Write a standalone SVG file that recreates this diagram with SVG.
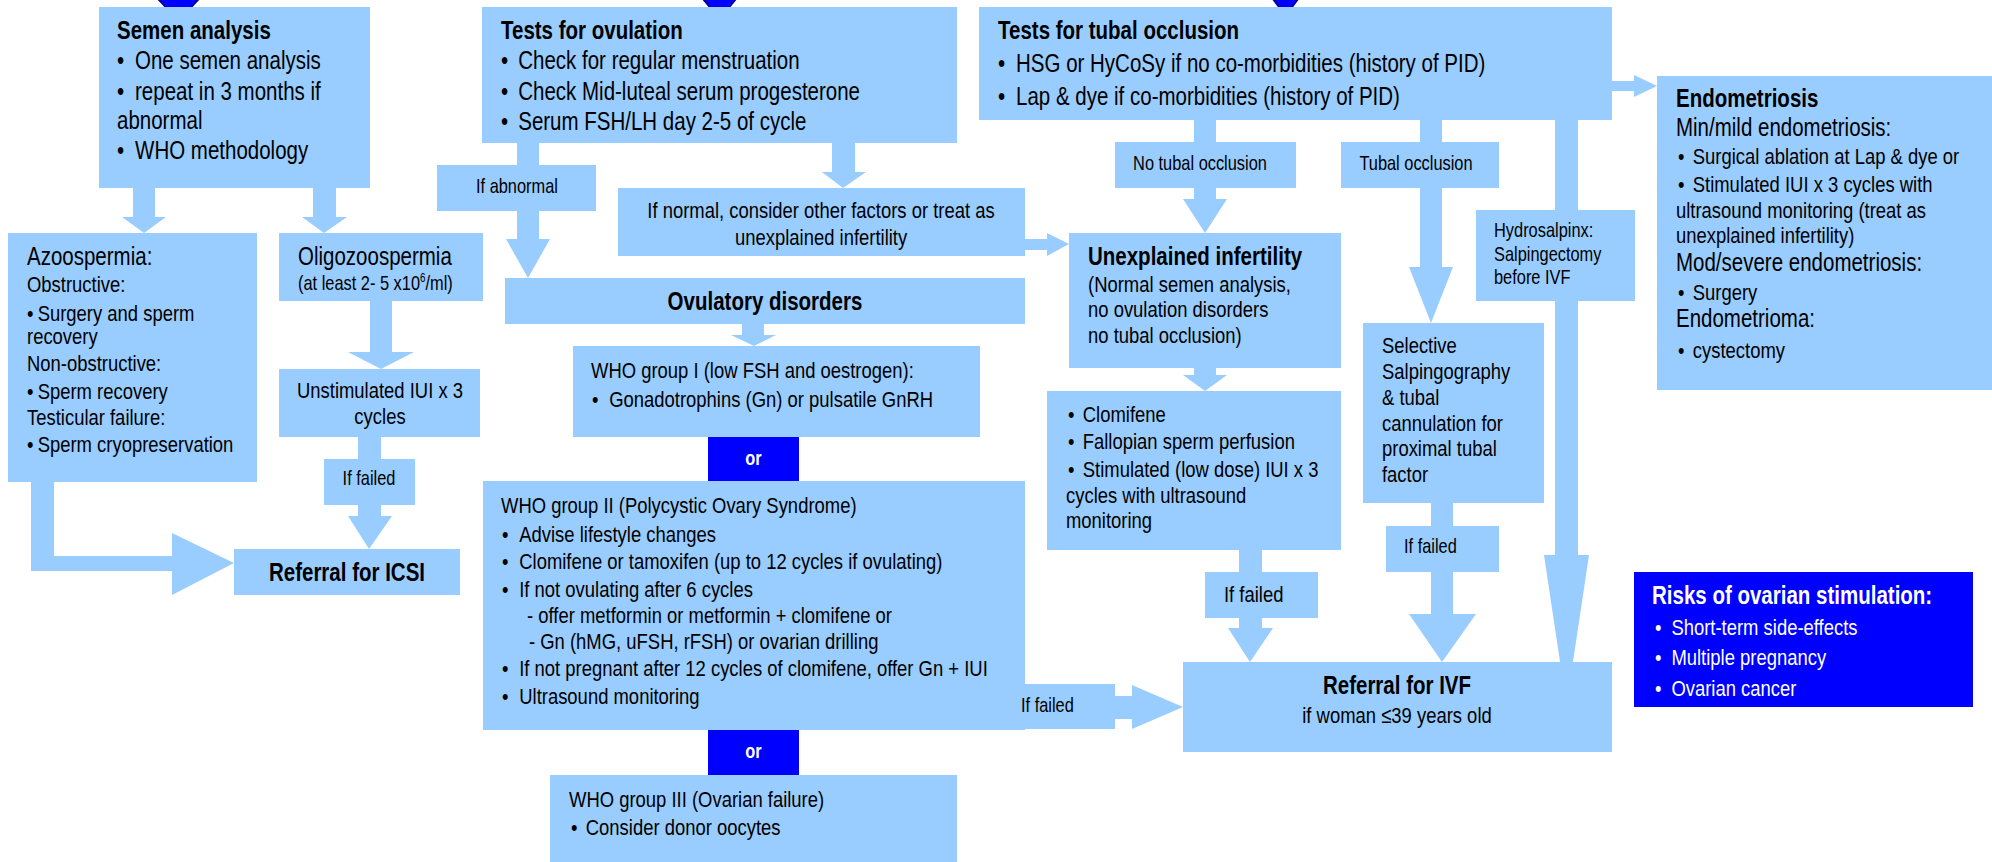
<svg xmlns="http://www.w3.org/2000/svg" width="1992" height="862" viewBox="0 0 1992 862">
<style>
.box{fill:#99CCFF;}
.dark{fill:#0000FF;}
.con{fill:#99CCFF;}
.tip{fill:#0000FF;stroke:#000080;stroke-width:1.5;}
text{font-family:"Liberation Sans Narrow","Arial Narrow","Liberation Sans",Arial,sans-serif;fill:#000;transform-box:fill-box;transform-origin:left center;transform:scaleX(0.82);}
.b{font-weight:bold;font-size:25px;}
.m{font-size:25px;}
.n{font-size:22.5px;}
.s{font-size:20px;}
.o{font-weight:bold;font-size:20px;}
.w{fill:#FFFFFF;}
.c{text-anchor:middle;transform-origin:center;}
</style>
<rect width="1992" height="862" fill="#FFFFFF"/>
<g id="connectors">
<polygon class="tip" points="157,-2 200,-2 178.5,21"/>
<polygon class="tip" points="702,-2 737,-2 719.5,19"/>
<polygon class="tip" points="1272,-2 1299,-2 1285.5,16"/>
<polygon class="con" points="133,186 155,186 155,217 166,217 144,233 122,217 133,217"/>
<polygon class="con" points="313,186 336,186 336,217 347,217 324,233 302,217 313,217"/>
<polygon class="con" points="370,299 392,299 392,352 414,352 381,369 348,352 370,352"/>
<rect class="con" x="358" y="435" width="23" height="26"/>
<polygon class="con" points="358,503 381,503 381,516 392,516 369,549 348,516 358,516"/>
<polygon class="con" points="31,480 54,480 54,556 172,556 172,533 234,563 172,595 172,571 31,571"/>
<rect class="con" x="517" y="141" width="22" height="26"/>
<polygon class="con" points="517,209 539,209 539,239 550,239 528,278 506,239 517,239"/>
<polygon class="con" points="832,141 855,141 855,172 866,172 843,188 822,172 832,172"/>
<polygon class="con" points="1023,239 1047,239 1047,233 1069,244 1047,256 1047,250 1023,250"/>
<polygon class="con" points="742,322 764,322 764,335 776,335 754,346 731,335 742,335"/>
<rect class="con" x="1194" y="118" width="22" height="26"/>
<polygon class="con" points="1194,186 1216,186 1216,199 1227,199 1205,233 1183,199 1194,199"/>
<polygon class="con" points="1194,366 1216,366 1216,375 1227,375 1205,391 1183,375 1194,375"/>
<rect class="con" x="1420" y="118" width="22" height="26"/>
<polygon class="con" points="1420,186 1442,186 1442,267 1453,267 1431,323 1409,267 1420,267"/>
<rect class="con" x="1431" y="501" width="22" height="27"/>
<polygon class="con" points="1431,570 1453,570 1453,614 1476,614 1442,662 1409,614 1431,614"/>
<rect class="con" x="1239" y="548" width="23" height="26"/>
<polygon class="con" points="1239,616 1262,616 1262,628 1273,628 1250,662 1228,628 1239,628"/>
<polygon class="con" points="1113,696 1132,696 1132,685 1183,707 1132,729 1132,719 1113,719"/>
<rect class="con" x="1555" y="118" width="23" height="94"/>
<polygon class="con" points="1555,299 1578,299 1578,555 1589,555 1566.5,705 1544,555 1555,555"/>
<polygon class="con" points="1610,81 1634,81 1634,75 1657,86 1634,97 1634,91 1610,91"/>
</g>
<g id="semen-analysis">
<rect class="box" x="99" y="7" width="271" height="181"/>
<text class="b" x="117" y="39">Semen analysis</text>
<text class="m" y="69"><tspan x="117">•</tspan><tspan x="139">One semen analysis</tspan></text>
<text class="m" y="100"><tspan x="117">•</tspan><tspan x="139">repeat in 3 months if</tspan></text>
<text class="m" x="117" y="129">abnormal</text>
<text class="m" y="159"><tspan x="117">•</tspan><tspan x="139">WHO methodology</tspan></text>
</g>
<g id="tests-ovulation">
<rect class="box" x="482" y="7" width="475" height="136"/>
<text class="b" x="501" y="39">Tests for ovulation</text>
<text class="m" y="69"><tspan x="501">•</tspan><tspan x="522">Check for regular menstruation</tspan></text>
<text class="m" y="100"><tspan x="501">•</tspan><tspan x="522">Check Mid-luteal serum progesterone</tspan></text>
<text class="m" y="130"><tspan x="501">•</tspan><tspan x="522">Serum FSH/LH day 2-5 of cycle</tspan></text>
</g>
<g id="tests-tubal">
<rect class="box" x="979" y="7" width="633" height="113"/>
<text class="b" x="998" y="39">Tests for tubal occlusion</text>
<text class="m" y="72"><tspan x="998">•</tspan><tspan x="1020">HSG or HyCoSy if no co-morbidities (history of PID)</tspan></text>
<text class="m" y="105"><tspan x="998">•</tspan><tspan x="1020">Lap &amp; dye if co-morbidities (history of PID)</tspan></text>
</g>
<g id="endometriosis">
<rect class="box" x="1657" y="76" width="335" height="314"/>
<text class="b" x="1676" y="107">Endometriosis</text>
<text class="m" x="1676" y="136">Min/mild endometriosis:</text>
<text class="n" y="164"><tspan x="1678">•</tspan><tspan x="1696">Surgical ablation at Lap &amp; dye or</tspan></text>
<text class="n" y="192"><tspan x="1678">•</tspan><tspan x="1696">Stimulated IUI x 3 cycles with</tspan></text>
<text class="n" x="1676" y="218">ultrasound monitoring (treat as</text>
<text class="n" x="1676" y="243">unexplained infertility)</text>
<text class="m" x="1676" y="271">Mod/severe endometriosis:</text>
<text class="n" y="300"><tspan x="1678">•</tspan><tspan x="1696">Surgery</tspan></text>
<text class="m" x="1676" y="327">Endometrioma:</text>
<text class="n" y="358"><tspan x="1678">•</tspan><tspan x="1696">cystectomy</tspan></text>
</g>
<g id="azoospermia">
<rect class="box" x="8" y="233" width="249" height="249"/>
<text class="m" x="27" y="265">Azoospermia:</text>
<text class="n" x="27" y="292">Obstructive:</text>
<text class="n" y="321"><tspan x="27">•</tspan><tspan x="40">Surgery and sperm</tspan></text>
<text class="n" x="27" y="344">recovery</text>
<text class="n" x="27" y="371">Non-obstructive:</text>
<text class="n" y="399"><tspan x="27">•</tspan><tspan x="40">Sperm recovery</tspan></text>
<text class="n" x="27" y="425">Testicular failure:</text>
<text class="n" y="452"><tspan x="27">•</tspan><tspan x="40">Sperm cryopreservation</tspan></text>
</g>
<g id="oligozoospermia">
<rect class="box" x="279" y="233" width="204" height="68"/>
<text class="m" x="298" y="265">Oligozoospermia</text>
<text class="s" x="298" y="290">(at least 2- 5 x10<tspan font-size="12" dy="-8">6</tspan><tspan dy="8">/ml)</tspan></text>
</g>
<g id="unstimulated-iui">
<rect class="box" x="279" y="369" width="201" height="68"/>
<text class="n c" x="380" y="398">Unstimulated IUI x 3</text>
<text class="n c" x="380" y="424">cycles</text>
</g>
<g id="if-failed-iui">
<rect class="box" x="324" y="459" width="91" height="46"/>
<text class="s c" x="369" y="485">If failed</text>
</g>
<g id="referral-icsi">
<rect class="box" x="234" y="549" width="226" height="46"/>
<text class="b c" x="347" y="581">Referral for ICSI</text>
</g>
<g id="if-abnormal">
<rect class="box" x="437" y="165" width="159" height="46"/>
<text class="s" x="476" y="193">If abnormal</text>
</g>
<g id="if-normal">
<rect class="box" x="618" y="188" width="407" height="68"/>
<text class="n c" x="821" y="218">If normal, consider other factors or treat as</text>
<text class="n c" x="821" y="245">unexplained infertility</text>
</g>
<g id="ovulatory-disorders">
<rect class="box" x="505" y="278" width="520" height="46"/>
<text class="b c" x="765" y="310">Ovulatory disorders</text>
</g>
<g id="who-group-1">
<rect class="box" x="573" y="346" width="407" height="91"/>
<text class="n" x="591" y="378">WHO group I (low FSH and oestrogen):</text>
<text class="n" y="407"><tspan x="592">•</tspan><tspan x="613">Gonadotrophins (Gn) or pulsatile GnRH</tspan></text>
</g>
<g id="or-1">
<rect class="dark" x="708" y="437" width="91" height="44"/>
<text class="o w c" x="753.5" y="465">or</text>
</g>
<g id="who-group-2">
<rect class="box" x="483" y="481" width="542" height="249"/>
<text class="n" x="501" y="513">WHO group II (Polycystic Ovary Syndrome)</text>
<text class="n" y="542"><tspan x="502">•</tspan><tspan x="523">Advise lifestyle changes</tspan></text>
<text class="n" y="569"><tspan x="502">•</tspan><tspan x="523">Clomifene or tamoxifen (up to 12 cycles if ovulating)</tspan></text>
<text class="n" y="597"><tspan x="502">•</tspan><tspan x="523">If not ovulating after 6 cycles</tspan></text>
<text class="n" x="527" y="623">- offer metformin or metformin + clomifene or</text>
<text class="n" x="529" y="649">- Gn (hMG, uFSH, rFSH) or ovarian drilling</text>
<text class="n" y="676"><tspan x="502">•</tspan><tspan x="523">If not pregnant after 12 cycles of clomifene, offer Gn + IUI</tspan></text>
<text class="n" y="704"><tspan x="502">•</tspan><tspan x="523">Ultrasound monitoring</tspan></text>
</g>
<g id="if-failed-pcos">
<rect class="box" x="1015" y="684" width="100" height="45"/>
<text class="s" x="1021" y="712">If failed</text>
</g>
<g id="or-2">
<rect class="dark" x="708" y="730" width="91" height="45"/>
<text class="o w c" x="753.5" y="758">or</text>
</g>
<g id="who-group-3">
<rect class="box" x="550" y="775" width="407" height="87"/>
<text class="n" x="569" y="807">WHO group III (Ovarian failure)</text>
<text class="n" y="835"><tspan x="571">•</tspan><tspan x="589">Consider donor oocytes</tspan></text>
</g>
<g id="no-tubal-occlusion">
<rect class="box" x="1115" y="142" width="181" height="46"/>
<text class="s c" x="1200" y="170">No tubal occlusion</text>
</g>
<g id="tubal-occlusion">
<rect class="box" x="1341" y="142" width="158" height="46"/>
<text class="s c" x="1416" y="170">Tubal occlusion</text>
</g>
<g id="hydrosalpinx">
<rect class="box" x="1476" y="210" width="159" height="91"/>
<text class="s" x="1494" y="237">Hydrosalpinx:</text>
<text class="s" x="1494" y="261">Salpingectomy</text>
<text class="s" x="1494" y="284">before IVF</text>
</g>
<g id="unexplained-infertility">
<rect class="box" x="1069" y="233" width="272" height="135"/>
<text class="b" x="1088" y="265">Unexplained infertility</text>
<text class="n" x="1088" y="292">(Normal semen analysis,</text>
<text class="n" x="1088" y="317">no ovulation disorders</text>
<text class="n" x="1088" y="343">no tubal occlusion)</text>
</g>
<g id="clomifene">
<rect class="box" x="1047" y="391" width="294" height="159"/>
<text class="n" y="422"><tspan x="1068">•</tspan><tspan x="1086">Clomifene</tspan></text>
<text class="n" y="449"><tspan x="1068">•</tspan><tspan x="1086">Fallopian sperm perfusion</tspan></text>
<text class="n" y="477"><tspan x="1068">•</tspan><tspan x="1086">Stimulated (low dose) IUI x 3</tspan></text>
<text class="n" x="1066" y="503">cycles with ultrasound</text>
<text class="n" x="1066" y="528">monitoring</text>
</g>
<g id="selective-salpingography">
<rect class="box" x="1363" y="323" width="181" height="180"/>
<text class="n" x="1382" y="353">Selective</text>
<text class="n" x="1382" y="379">Salpingography</text>
<text class="n" x="1382" y="405">&amp; tubal</text>
<text class="n" x="1382" y="431">cannulation for</text>
<text class="n" x="1382" y="456">proximal tubal</text>
<text class="n" x="1382" y="482">factor</text>
</g>
<g id="if-failed-clomifene">
<rect class="box" x="1205" y="572" width="113" height="46"/>
<text class="n" x="1224" y="602">If failed</text>
</g>
<g id="if-failed-selective">
<rect class="box" x="1386" y="526" width="113" height="46"/>
<text class="s" x="1404" y="553">If failed</text>
</g>
<g id="referral-ivf">
<rect class="box" x="1183" y="662" width="429" height="90"/>
<text class="b c" x="1397" y="694">Referral for IVF</text>
<text class="n c" x="1397" y="723">if woman ≤39 years old</text>
</g>
<g id="risks">
<rect class="dark" x="1634" y="572" width="339" height="135"/>
<text class="b w" x="1652" y="604">Risks of ovarian stimulation:</text>
<text class="n w" y="635"><tspan x="1655">•</tspan><tspan x="1675">Short-term side-effects</tspan></text>
<text class="n w" y="665"><tspan x="1655">•</tspan><tspan x="1675">Multiple pregnancy</tspan></text>
<text class="n w" y="696"><tspan x="1655">•</tspan><tspan x="1675">Ovarian cancer</tspan></text>
</g>
</svg>
